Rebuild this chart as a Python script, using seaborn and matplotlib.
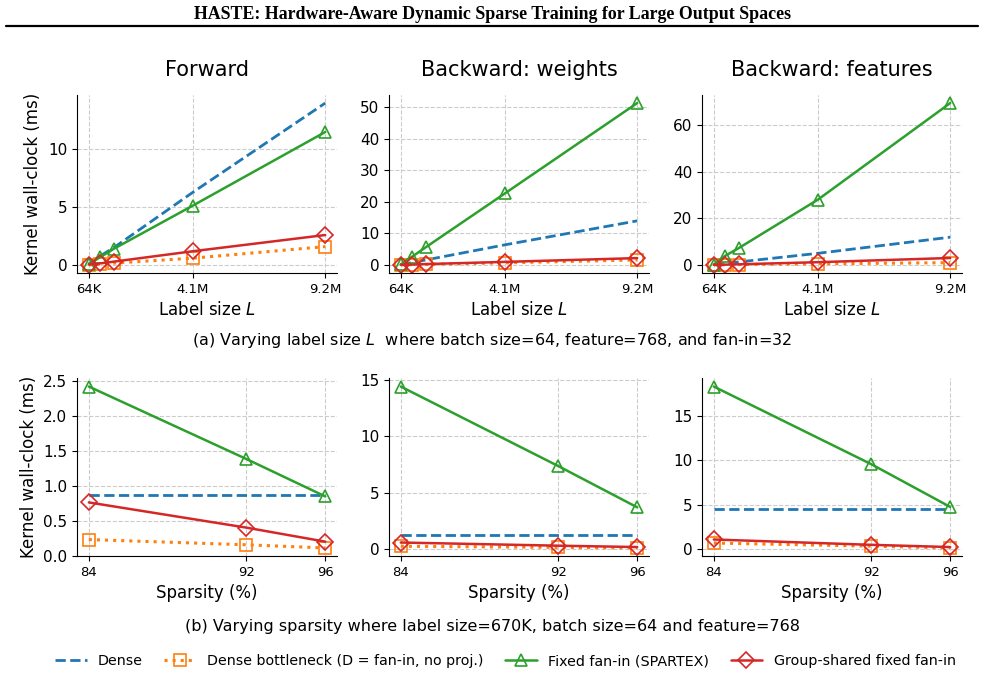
import matplotlib
matplotlib.use('Agg')
import matplotlib.pyplot as plt
from matplotlib.lines import Line2D
import seaborn as sns

# label sizes in millions
label_size = [0.064, 0.512, 1.024, 4.096, 9.216]
label_ticks = [0.064, 4.096, 9.216]
label_ticklabels = ['64K', '4.1M', '9.2M']

sparsity = [84, 92, 96]
sparsity_ticks = [84, 92, 96]

series_names = ['Dense', 'Dense bottleneck (D = fan-in, no proj.)',
                'Fixed fan-in (SPARTEX)', 'Group-shared fixed fan-in']

# (a) varying label size
fwd_dense = [0.1, 0.8, 1.5, 6.3, 14.0]
fwd_bottleneck = [0.02, 0.08, 0.17, 0.6, 1.6]
fwd_fixed = [0.1, 0.7, 1.4, 5.15, 11.5]
fwd_group = [0.05, 0.15, 0.3, 1.2, 2.6]

bww_dense = [0.1, 0.8, 1.6, 6.4, 14.0]
bww_bottleneck = [0.05, 0.12, 0.2, 0.7, 1.6]
bww_fixed = [0.2, 2.7, 5.6, 22.7, 51.3]
bww_group = [0.1, 0.15, 0.3, 1.0, 2.2]

bwf_dense = [0.1, 0.7, 1.3, 5.0, 11.9]
bwf_bottleneck = [0.05, 0.1, 0.2, 0.5, 1.0]
bwf_fixed = [0.2, 4.0, 7.2, 28.0, 69.3]
bwf_group = [0.1, 0.15, 0.3, 1.2, 3.0]

# (b) varying sparsity
sp_fwd_dense = [0.87, 0.87, 0.87]
sp_fwd_bottleneck = [0.23, 0.155, 0.11]
sp_fwd_fixed = [2.415, 1.38, 0.846]
sp_fwd_group = [0.76, 0.40, 0.20]

sp_bww_dense = [1.27, 1.27, 1.27]
sp_bww_bottleneck = [0.25, 0.15, 0.1]
sp_bww_fixed = [14.4, 7.35, 3.7]
sp_bww_group = [0.58, 0.3, 0.18]

sp_bwf_dense = [4.58, 4.58, 4.58]
sp_bwf_bottleneck = [0.7, 0.35, 0.15]
sp_bwf_fixed = [18.3, 9.56, 4.76]
sp_bwf_group = [1.1, 0.5, 0.25]

# y tick values per panel
top_yticks = [[0, 5, 10], [0, 10, 20, 30, 40, 50], [0, 20, 40, 60]]
bot_yticks = [[0.0, 0.5, 1.0, 1.5, 2.0, 2.5], [0, 5, 10, 15], [0, 5, 10, 15]]

sns.set_style('ticks')
plt.rcParams['font.family'] = ['DejaVu Sans']
plt.rcParams.update({'text.color': 'black', 'axes.labelcolor': 'black',
                     'xtick.color': 'black', 'ytick.color': 'black',
                     'axes.edgecolor': 'black'})

fig = plt.figure(figsize=(9.85, 6.76), dpi=100)

styles = [
    dict(color='tab:blue', linestyle='--', linewidth=2.0),
    dict(color='tab:orange', linestyle=':', linewidth=2.2, marker='s', markersize=8,
         markerfacecolor='none', markeredgecolor='tab:orange', markeredgewidth=1.2),
    dict(color='tab:green', linestyle='-', linewidth=1.8, marker='^', markersize=8.5,
         markerfacecolor='none', markeredgecolor='tab:green', markeredgewidth=1.2),
    dict(color='tab:red', linestyle='-', linewidth=1.8, marker='D', markersize=8,
         markerfacecolor='none', markeredgecolor='tab:red', markeredgewidth=1.2),
]

lefts = [0.0782, 0.3949, 0.7127]
width = 0.264
top_bottom, top_height = 0.5962, 0.2633
bot_bottom, bot_height = 0.1775, 0.2626

titles = ['Forward', 'Backward: weights', 'Backward: features']
top_data = [
    [fwd_dense, fwd_bottleneck, fwd_fixed, fwd_group],
    [bww_dense, bww_bottleneck, bww_fixed, bww_group],
    [bwf_dense, bwf_bottleneck, bwf_fixed, bwf_group],
]
bot_data = [
    [sp_fwd_dense, sp_fwd_bottleneck, sp_fwd_fixed, sp_fwd_group],
    [sp_bww_dense, sp_bww_bottleneck, sp_bww_fixed, sp_bww_group],
    [sp_bwf_dense, sp_bwf_bottleneck, sp_bwf_fixed, sp_bwf_group],
]


def style_axes(ax):
    ax.grid(True, linestyle='--', color='#cccccc', linewidth=0.8)
    ax.set_axisbelow(True)
    sns.despine(ax=ax)
    ax.tick_params(axis='y', labelsize=11)
    ax.tick_params(axis='x', labelsize=9.5)


handles = None
for i in range(3):
    ax = fig.add_axes([lefts[i], top_bottom, width, top_height])
    for vals, name, st in zip(top_data[i], series_names, styles):
        sns.lineplot(x=label_size, y=vals, ax=ax, label=name, legend=False, **st)
    ax.set_xticks(label_ticks)
    ax.set_xticklabels(label_ticklabels)
    ax.set_yticks(top_yticks[i])
    ax.set_xlabel('Label size $L$', fontsize=12)
    ax.set_title(titles[i], fontsize=15, pad=14)
    if i == 0:
        ax.set_ylabel('Kernel wall-clock (ms)', fontsize=12)
        handles, labels = ax.get_legend_handles_labels()
    style_axes(ax)

for i in range(3):
    ax = fig.add_axes([lefts[i], bot_bottom, width, bot_height])
    for vals, name, st in zip(bot_data[i], series_names, styles):
        sns.lineplot(x=sparsity, y=vals, ax=ax, label=name, legend=False, **st)
    ax.set_xticks(sparsity_ticks)
    ax.set_yticks(bot_yticks[i])
    if i == 0:
        ax.set_yticklabels([f'{v:.1f}' for v in bot_yticks[i]])
        ax.set_ylabel('Kernel wall-clock (ms)', fontsize=12)
    ax.set_xlabel('Sparsity (%)', fontsize=12)
    style_axes(ax)

fig.text(0.5, 0.497, '(a) Varying label size $L$  where batch size=64, feature=768, and fan-in=32',
         ha='center', va='center', fontsize=11.5)
fig.text(0.5, 0.0725, '(b) Varying sparsity where label size=670K, batch size=64 and feature=768',
         ha='center', va='center', fontsize=11.5)

fig.legend(handles, labels, loc='center', bbox_to_anchor=(0.513, 0.022), ncol=4,
           frameon=False, fontsize=10.3, handlelength=2.2, columnspacing=1.5)

# page header
fig.text(0.5, 0.979, 'HASTE: Hardware-Aware Dynamic Sparse Training for Large Output Spaces',
         ha='center', va='center', fontsize=12.9, fontweight='bold', family='Liberation Serif')
fig.add_artist(Line2D([0.006, 0.993], [0.9615, 0.9615], color='black', linewidth=1.6))

fig.savefig('out.png', dpi=100)
